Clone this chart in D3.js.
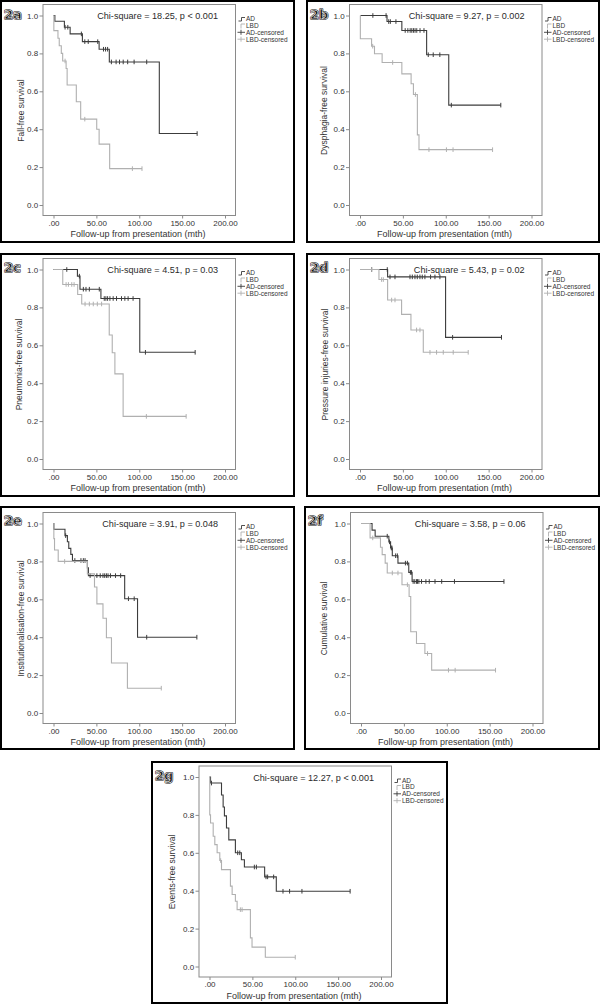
<!DOCTYPE html>
<html><head><meta charset="utf-8">
<script src="https://cdn.jsdelivr.net/npm/d3@7"></script>
<style>body{margin:0;background:#fff}svg{display:block}</style>
</head><body>
<svg id="c" width="601" height="1005"></svg>
<script>
// ---------- data ----------
const panelIds = ["2a","2b","2c","2d","2e","2f","2g"];
const yTitles = ["Fall-free survival","Dysphagia-free survival","Pneumonia-free survival",
  "Pressure injuries-free survival","Institutionalisation-free survival","Cumulative survival","Events-free survival"];
const chiTexts = ["Chi-square = 18.25, p < 0.001","Chi-square = 9.27, p = 0.002","Chi-square = 4.51, p = 0.03",
  "Chi-square = 5.43, p = 0.02","Chi-square = 3.91, p = 0.048","Chi-square = 3.58, p = 0.06","Chi-square = 12.27, p < 0.001"];
const xTickValues = [0,50,100,150,200];
const xTickLabels = [".00","50.00","100.00","150.00","200.00"];
const yTickValues = [0,0.2,0.4,0.6,0.8,1.0];
const yTickLabels = ["0.0","0.2","0.4","0.6","0.8","1.0"];
const legendLabels = ["AD","LBD","AD-censored","LBD-censored"];
const xTitle = "Follow-up from presentation (mth)";

// 2a
const adTime_a = [0,1.6,12.7,19.4,33.7,53.2,65.1,123.4];
const adSurv_a = [1,0.970,0.938,0.903,0.862,0.822,0.755,0.377];
const adCens_a = [13.5,16.7,32.5,36.5,40.5,51.6,58.3,60.7,63.1,67.5,73,77,81.3,86.5,94,108.7,167.5];
const lbdTime_a = [0,0.4,5.2,6.7,9.1,10.7,14.7,15.9,26.6,31.7,50.4,53.2,65.5];
const lbdSurv_a = [1,0.92,0.88,0.84,0.80,0.76,0.72,0.633,0.545,0.453,0.40,0.321,0.192];
const lbdCens_a = [13.5,36.5,92,103.2];
// 2b
const adTime_b = [0,31.5,48.8,77.7,103.5];
const adSurv_b = [1,0.968,0.921,0.793,0.527];
const adCens_b = [15,30.4,33.5,35.4,41.9,52.7,55.8,58.5,60.4,62.3,64.2,66.2,70,74.6,79.6,85.4,93.1,106.5,164.2];
const lbdTime_b = [0,0.4,13.5,16.9,25.8,48.8,59.6,62.3,66.9,68.8];
const lbdSurv_b = [1,0.877,0.838,0.798,0.752,0.692,0.64,0.583,0.37,0.292];
const lbdCens_b = [14.8,38.1,64.6,80.4,100.8,108.5,154.6];
// 2c
const adTime_c = [0,27.9,30.9,55.3,100.6];
const adSurv_c = [1,0.965,0.896,0.847,0.563];
const adCens_c = [15.5,30.2,34.8,37.9,41.8,53.4,59.2,61.1,63.1,65.8,69.6,73.5,79.3,83.2,87,92.8,107.2,165.2];
const lbdTime_c = [0,10.8,28.2,32.9,65,68.5,71.6,81.2];
const lbdSurv_c = [1,0.921,0.868,0.818,0.654,0.561,0.449,0.225];
const lbdCens_c = [14.7,17.4,21.3,24,36.8,41.8,46.4,51.1,56.1,108.3,154.7];
// 2d
const adTime_d = [0,32.2,99.8];
const adSurv_d = [1,0.961,0.642];
const adCens_d = [13.6,31.8,35,40.8,58.3,61,64.1,66.8,69.9,72.6,75.7,82.3,87.4,93.2,108,165];
const lbdTime_d = [0,22.1,32.2,48.5,59.4,73.8];
const lbdSurv_d = [1,0.947,0.839,0.763,0.681,0.563];
const lbdCens_d = [13.6,25.2,27.2,36.9,40.8,66,69.9,81.6,89.3,97.1,108.7,126.2];
// 2e
const adTime_e = [0,0.4,13.4,16.2,17.8,20.2,22.1,39.5,40.7,83,98];
const adSurv_e = [1,0.97,0.936,0.904,0.869,0.837,0.805,0.766,0.725,0.603,0.40];
const adCens_e = [14.2,24.9,32,34.8,36.8,42.7,50.6,54.5,57.7,59.7,61.7,63.6,66.4,72.3,78.3,87.4,94.1,108.7,167.2];
const lbdTime_e = [0,0.4,1.2,5.5,39.5,47.8,50.6,57.7,61.7,67.6,86.2];
const lbdSurv_e = [1,0.92,0.86,0.80,0.734,0.665,0.576,0.50,0.397,0.264,0.131];
const lbdCens_e = [13,125.7];
// 2f
const adTime_f = [0,12.9,16.5,32.5,34.5,36.5,43.1,55.7,59.6];
const adSurv_f = [1,0.965,0.933,0.903,0.871,0.83,0.791,0.742,0.694];
const adCens_f = [30.6,33.3,35.3,36.1,40.4,42.4,51.8,54.1,57.6,58.8,60.8,62.7,64.7,65.9,67.5,70.6,75.7,79.6,86.3,94.1,109,166.7];
const lbdTime_f = [0,10.6,22.7,24.7,28.2,30.6,47.8,56.1,58,64.7,74.5,82.4];
const lbdSurv_f = [1,0.924,0.875,0.836,0.791,0.739,0.677,0.615,0.429,0.367,0.314,0.226];
const lbdCens_f = [13.7,36.5,43.1,54.1,77.6,102,109.8,156.9];
// 2g
const adTime_g = [0,1.2,14,15.9,17.4,19.8,22.5,30.2,37.2,40.7,64.3,77.9];
const adSurv_g = [1,0.968,0.905,0.842,0.795,0.731,0.668,0.6,0.563,0.525,0.473,0.397];
const adCens_g = [2.3,32.9,35.3,52.3,54.7,65.9,67.8,74.8,85.7,93.4,107.8,164];
const lbdTime_g = [0,0.3,1.2,4.3,6.2,8.9,12,14,24.4,26.4,30.2,32.2,47.7,49.6,65.1];
const lbdSurv_g = [1,0.80,0.757,0.687,0.643,0.60,0.559,0.511,0.424,0.38,0.344,0.30,0.151,0.102,0.049];
const lbdCens_g = [13,36,38,100];

const seriesData = [
  [[adTime_a,adSurv_a,adCens_a],[lbdTime_a,lbdSurv_a,lbdCens_a]],
  [[adTime_b,adSurv_b,adCens_b],[lbdTime_b,lbdSurv_b,lbdCens_b]],
  [[adTime_c,adSurv_c,adCens_c],[lbdTime_c,lbdSurv_c,lbdCens_c]],
  [[adTime_d,adSurv_d,adCens_d],[lbdTime_d,lbdSurv_d,lbdCens_d]],
  [[adTime_e,adSurv_e,adCens_e],[lbdTime_e,lbdSurv_e,lbdCens_e]],
  [[adTime_f,adSurv_f,adCens_f],[lbdTime_f,lbdSurv_f,lbdCens_f]],
  [[adTime_g,adSurv_g,adCens_g],[lbdTime_g,lbdSurv_g,lbdCens_g]]
];

// ---------- layout / style ----------
const layout = [
  {fx:1,   fy:1,   fw:293, fh:241, ox:1,     oy:0.5,   ylx:20},
  {fx:307, fy:1,   fw:292, fh:241, ox:307.5, oy:0.5,   ylx:16},
  {fx:1,   fy:254, fw:293, fh:242, ox:1,     oy:254.5, ylx:18},
  {fx:307, fy:254, fw:292, fh:242, ox:307.5, oy:254.5, ylx:17.5},
  {fx:1,   fy:507, fw:293, fh:242, ox:1,     oy:508.5, ylx:19.5},
  {fx:305, fy:507, fw:294, fh:242, ox:308.5, oy:508.5, ylx:15},
  {fx:152, fy:762, fw:295, fh:241, ox:157,   oy:762,   ylx:14.5}
];
const FONT = "'Liberation Sans', Arial, sans-serif";
const colors = ["#3c3c3c", "#b0b0b0"];
const frameGrey = "#8a8a8a";

const svg = d3.select("#c");
svg.append("rect").attr("width",601).attr("height",1005).attr("fill","#fff");

function txt(g, x, y, s, o) {
  return g.append("text")
    .attr("transform", `translate(${x},${y})` + (o.rot ? ` rotate(${o.rot})` : "") + ` scale(${o.sx || 1},1)`)
    .attr("font-family", FONT).attr("font-size", o.size)
    .attr("text-anchor", o.anchor || "start").attr("fill", o.fill || "#333").text(s);
}

function survAt(times, surv, t) {
  let v = surv[0];
  for (let i = 0; i < times.length; i++) if (times[i] <= t) v = surv[i];
  return v;
}

panelIds.forEach((id, pi) => {
  const L = layout[pi];
  const g = svg.append("g");
  const x = d3.scaleLinear().domain([0,200]).range([L.ox + 52.5, L.ox + 224]);
  const y = d3.scaleLinear().domain([0,1]).range([L.oy + 204.5, L.oy + 15]);
  const px0 = L.ox + 42, px1 = L.ox + 234.5, py0 = L.oy + 4, py1 = L.oy + 215;

  g.append("rect").attr("x", L.fx).attr("y", L.fy).attr("width", L.fw).attr("height", L.fh)
    .attr("fill", "none").attr("stroke", "#000").attr("stroke-width", 2);

  g.append("rect").attr("x", px0).attr("y", py0).attr("width", px1 - px0).attr("height", py1 - py0)
    .attr("fill", "none").attr("stroke", frameGrey).attr("stroke-width", 1);

  const ya = g.append("g").attr("transform", `translate(${px0},0)`)
    .call(d3.axisLeft(y).tickValues(yTickValues).tickFormat((d,i) => yTickLabels[i]).tickSize(3.5).tickPadding(1.3));
  const xa = g.append("g").attr("transform", `translate(0,${py1})`)
    .call(d3.axisBottom(x).tickValues(xTickValues).tickFormat((d,i) => xTickLabels[i]).tickSize(3).tickPadding(1.5));
  [ya, xa].forEach(a => {
    a.select(".domain").remove();
    a.selectAll(".tick line").attr("stroke", frameGrey);
    a.selectAll(".tick text").attr("font-family", FONT).attr("font-size", 8).attr("fill", "#333");
  });

  seriesData[pi].forEach((s, si) => {
    const [times, surv, cens] = s;
    const end = Math.max(times[times.length - 1], d3.max(cens));
    const pts = times.map((t, i) => [t, surv[i]]);
    pts.push([end, surv[surv.length - 1]]);
    const line = d3.line().x(d => x(d[0])).y(d => y(d[1])).curve(d3.curveStepAfter);
    g.append("path").attr("d", line(pts)).attr("fill", "none")
      .attr("stroke", colors[si]).attr("stroke-width", 1.1);
    g.selectAll(null).data(cens).enter().append("line")
      .attr("x1", d => x(d)).attr("x2", d => x(d))
      .attr("y1", d => y(survAt(times, surv, d)) - 2.3)
      .attr("y2", d => y(survAt(times, surv, d)) + 2.3)
      .attr("stroke", colors[si]).attr("stroke-width", 1);
  });

  txt(g, L.ox + 217, L.oy + 18.5, chiTexts[pi], {size: 8.5, anchor: "end", sx: 1.07, fill: "#2a2a2a"});
  txt(g, L.ox + L.ylx + 3, L.oy + 110, yTitles[pi], {size: 8.5, anchor: "middle", rot: -90, fill: "#333"});
  txt(g, L.ox + 137, L.oy + 236.5, xTitle, {size: 8.5, anchor: "middle", sx: 1.06, fill: "#333"});

  const rows = [18.5, 25, 31.8, 38.7].map(v => L.oy + v);
  const lx0 = L.ox + 237.5, lx1 = L.ox + 244;
  g.append("path").attr("d", `M${lx0},${rows[0]+2}H${lx0+3}V${rows[0]-1.5}H${lx1}`)
    .attr("fill","none").attr("stroke",colors[0]).attr("stroke-width",0.9);
  g.append("path").attr("d", `M${lx0+2.5},${rows[1]+3}V${rows[1]-1.5}H${lx1}`)
    .attr("fill","none").attr("stroke",colors[1]).attr("stroke-width",0.9);
  [2,3].forEach(r => {
    g.append("path").attr("d", `M${lx0-1},${rows[r]}H${lx1}M${lx0+2.5},${rows[r]-2.5}V${rows[r]+2.5}`)
      .attr("fill","none").attr("stroke",colors[r - 2]).attr("stroke-width",0.9);
  });
  legendLabels.forEach((lab, i) => {
    txt(g, L.ox + 245, rows[i] + 2.3, lab, {size: 6.5, fill: "#333"});
  });

  // panel label: heavy black glyph with thin white inline
  const lx = L.fx + 3, ly = L.fy + 18;
  g.append("text").attr("x", lx).attr("y", ly)
    .attr("font-family", "'DejaVu Sans', sans-serif").attr("font-weight", "bold").attr("font-size", 13)
    .attr("fill", "#111").attr("stroke", "#111").attr("stroke-width", 1.6)
    .attr("stroke-linejoin", "round").text(id);
  g.append("text").attr("x", lx).attr("y", ly)
    .attr("font-family", "'DejaVu Sans', sans-serif").attr("font-weight", "bold").attr("font-size", 13)
    .attr("fill", "none").attr("stroke", "#fff").attr("stroke-width", 0.6)
    .attr("stroke-linejoin", "round").text(id);
});
</script>
</body></html>
